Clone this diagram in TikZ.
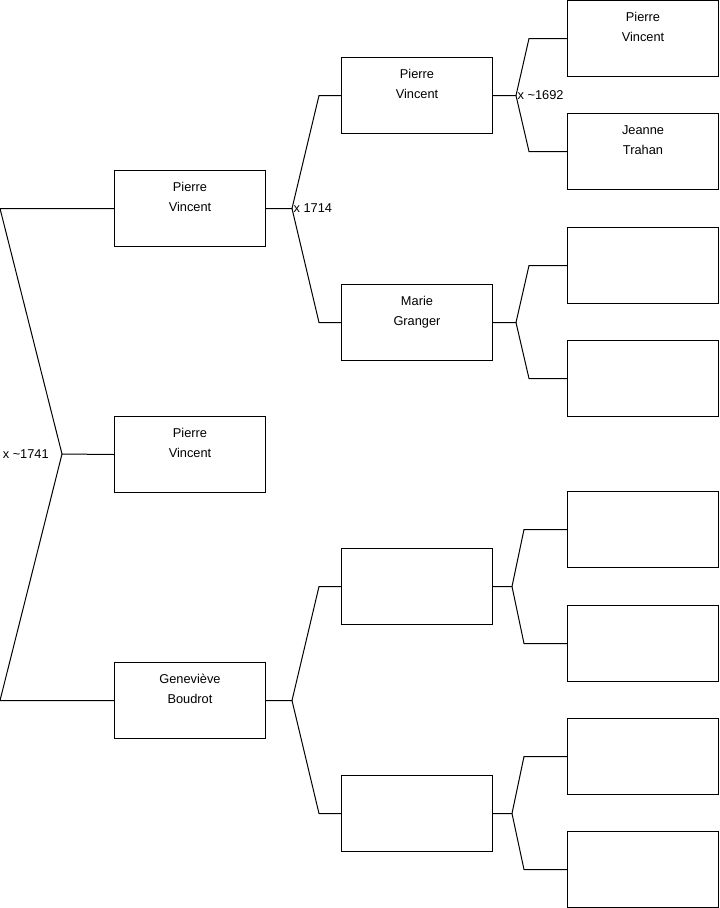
\documentclass[tikz,border=0pt]{standalone}
\usepackage{fontspec}
\setmainfont{Liberation Sans}
\usetikzlibrary{positioning, calc}
\tikzset{
  person/.style={
    draw=black, line width=0.75pt, anchor=north west, fill=white,
    minimum width=113.25pt, minimum height=57pt, inner sep=0pt
  },
  persontext/.style={
    anchor=north, inner sep=0pt, align=center, yshift=-9pt,
    font=\fontsize{9.6}{15}\selectfont
  },
  link/.style={line width=0.75pt, draw=black},
  weddate/.style={font=\fontsize{9.6}{11}\selectfont, inner sep=0pt},
}

\begin{document}
\begin{tikzpicture}[x=0.75pt, y=-0.75pt]
  \useasboundingbox (0,0) rectangle (719,908);
  \fill[white] (0,0) rectangle (719,908);

  % Generation 1
  \node[person, label={[persontext]north:{Pierre\\Vincent}}] (root) at (114,416) {};
  \node[person, label={[persontext]north:{Pierre\\Vincent}}] (fa) at (114,170) {};
  \node[person, label={[persontext]north:{Geneviève\\Boudrot}}] (mo) at (114,662) {};

  % Generation 2
  \node[person, label={[persontext]north:{Pierre\\Vincent}}] (fafa) at (341,57) {};
  \node[person, label={[persontext]north:{Marie\\Granger}}] (famo) at (341,284) {};
  \node[person] (mofa) at (341,548) {};
  \node[person] (momo) at (341,775) {};

  % Generation 3
  \node[person, label={[persontext]north:{Pierre\\Vincent}}] (fafafa) at (567,0) {};
  \node[person, label={[persontext]north:{Jeanne\\Trahan}}] (fafamo) at (567,113) {};
  \node[person] (famofa) at (567,227) {};
  \node[person] (famomo) at (567,340) {};
  \node[person] (mofafa) at (567,491) {};
  \node[person] (mofamo) at (567,605) {};
  \node[person] (momofa) at (567,718) {};
  \node[person] (momomo) at (567,831) {};

  % Parents of the root
  \coordinate (m0) at (62,454);
  \draw[link] (fa.west) -- ++(-114,0) -- (m0) -- ($(mo.west)+(-114,0)$) -- (mo.west);
  \draw[link] (m0) -- (root.west);
  \node[weddate, left=9.75pt of m0] (d0) {x \textasciitilde1741};

  % Parents of the father
  \draw[link] (fa.east) -- ++(26,0) coordinate (m1)
    -- ($(fafa.west)+(-22,0)$) -- (fafa.west);
  \draw[link] (m1) -- ($(famo.west)+(-22,0)$) -- (famo.west);
  \node[weddate, right=1pt of m1] (d1) {x 1714};

  % Parents of the mother
  \draw[link] (mo.east) -- ++(26,0) coordinate (m2)
    -- ($(mofa.west)+(-22,0)$) -- (mofa.west);
  \draw[link] (m2) -- ($(momo.west)+(-22,0)$) -- (momo.west);

  % Generation 3 links
  \draw[link] (fafa.east) -- ++(23,0) coordinate (m3)
    -- ($(fafafa.west)+(-38,0)$) -- (fafafa.west);
  \draw[link] (m3) -- ($(fafamo.west)+(-38,0)$) -- (fafamo.west);
  \node[weddate, right=1pt of m3] (d3) {x \textasciitilde1692};

  \draw[link] (famo.east) -- ++(23,0) coordinate (m4)
    -- ($(famofa.west)+(-38,0)$) -- (famofa.west);
  \draw[link] (m4) -- ($(famomo.west)+(-38,0)$) -- (famomo.west);

  \draw[link] (mofa.east) -- ++(19,0) coordinate (m5)
    -- ($(mofafa.west)+(-43,0)$) -- (mofafa.west);
  \draw[link] (m5) -- ($(mofamo.west)+(-43,0)$) -- (mofamo.west);

  \draw[link] (momo.east) -- ++(19,0) coordinate (m6)
    -- ($(momofa.west)+(-43,0)$) -- (momofa.west);
  \draw[link] (m6) -- ($(momomo.west)+(-43,0)$) -- (momomo.west);
\end{tikzpicture}
\end{document}
